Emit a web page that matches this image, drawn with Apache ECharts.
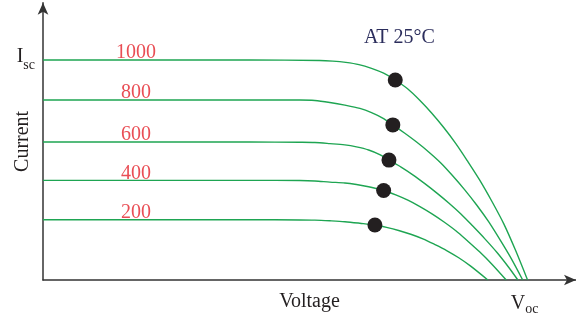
<!DOCTYPE html>
<html><head><meta charset="utf-8">
<script src="https://cdn.jsdelivr.net/npm/echarts@6/dist/echarts.min.js"></script>
<style>html,body{margin:0;padding:0;background:#fff}#c{width:576px;height:324px}</style>
</head><body><div id="c"></div>
<script>
// Irradiance levels (W/m²)
const irradiance = ['1000', '800', '600', '400', '200'];
// I–V curves [voltage, current] in arbitrary units
const curve1000 = [[0,100],[42.7,100],[57.1,99.8],[59.8,99.5],[62.5,98.9],[65.2,97.9],[67.8,96.2],[70.3,94.0],[72.7,90.9],[75.3,86.8],[77.7,81.8],[80.2,75.9],[82.7,69.3],[85.2,62.0],[87.6,54.1],[90.1,45.5],[92.6,35.9],[95.1,25.5],[97.5,13.6],[100,0]];
const curve800  = [[0,81.8],[42.7,81.8],[53,81.8],[56.1,81.6],[59.2,80.7],[62.3,79.5],[65.4,78.0],[67.8,76.1],[70.1,73.6],[72.2,70.5],[74.6,66.8],[77.1,62.7],[79.6,58.2],[82.1,53.2],[84.5,47.5],[87,41.1],[89.5,34.1],[92,26.4],[94.4,18.0],[96.7,9.5],[99,0]];
const curve600  = [[0,62.7],[42.7,62.7],[53,62.6],[56.1,62.5],[59.2,62.0],[62.3,61.4],[64.7,60.5],[67.2,59.1],[69.5,57.0],[71.4,54.5],[73.9,51.3],[76.4,47.7],[78.8,43.8],[81.3,39.5],[83.8,34.9],[86.3,29.9],[88.7,24.5],[91.2,18.7],[93.7,12.5],[96.1,5.8],[98,0]];
const curve400  = [[0,45.3],[42.7,45.3],[53,45.2],[56.1,45.0],[59.2,44.5],[62.3,44.1],[64.7,43.4],[67.2,42.4],[70.3,40.7],[72.8,38.7],[75.3,36.3],[77.7,33.5],[80.2,30.2],[82.7,26.5],[85.2,22.4],[87.6,17.8],[90.1,12.8],[92.6,7.3],[95.6,0]];
const curve200  = [[0,27.4],[42.7,27.4],[53,27.3],[56.1,27.2],[59.2,26.9],[62.3,26.5],[65.4,25.8],[68.5,25],[70.9,23.9],[73.4,22.5],[75.9,20.8],[78.4,18.7],[80.8,16.2],[83.3,13.4],[85.8,10.1],[88.2,6.4],[91.8,0]];
// Maximum power points
const mpp = [[72.7,90.9],[72.2,70.5],[71.4,54.5],[70.3,40.7],[68.5,25]];
// Label anchor positions for irradiance labels
const labelX = 19.2;
const levels = [100, 81.8, 62.7, 45.3, 27.4];
const iscValue = 100, vocValue = 100;

const serif = '"Liberation Serif", "DejaVu Serif", serif';
const green = '#1ea552';
const curves = [curve1000, curve800, curve600, curve400, curve200];

const series = curves.map((d, i) => ({
  type: 'line', name: irradiance[i], data: d, smooth: 0.3,
  showSymbol: false, lineStyle: { color: green, width: 1.4 }, silent: true, z: 2
}));
series.push({
  type: 'scatter', data: mpp, symbolSize: 15,
  itemStyle: { color: '#231f20', opacity: 1 }, z: 5, silent: true
});
series.push({
  type: 'scatter', symbolSize: 0, z: 4, silent: true,
  data: levels.map((v, i) => ({ value: [labelX, v], name: irradiance[i] })),
  label: { show: true, position: 'top', distance: -3, formatter: p => p.name,
    color: '#e4222b', fontFamily: serif, fontSize: 20 }
});

const chart = echarts.init(document.getElementById('c'));
chart.setOption({
  animation: false,
  grid: { left: 43, right: 0, top: 2.8, bottom: 44, containLabel: false, outerBoundsMode: 'none' },
  xAxis: {
    type: 'value', min: 0, max: 110,
    name: 'Voltage', nameLocation: 'middle', nameGap: 12, nameMoveOverlap: false,
    nameTextStyle: { fontFamily: serif, fontSize: 20, color: '#231f20', verticalAlign: 'top' },
    axisLine: { lineStyle: { color: '#333', width: 1.5 }, symbol: ['none', 'arrow'], symbolSize: [8, 12] },
    axisTick: { show: false }, splitLine: { show: false },
    axisLabel: { customValues: [vocValue], margin: 12,
      formatter: () => '{v|V}{s|oc}',
      rich: { v: { fontFamily: serif, fontSize: 20, color: '#231f20' },
              s: { fontFamily: serif, fontSize: 14, color: '#231f20', padding: [10, 6, 0, 0] } } }
  },
  yAxis: {
    type: 'value', min: 0, max: 126,
    name: 'Current', nameLocation: 'middle', nameGap: 10, nameRotate: 90, nameMoveOverlap: false,
    nameTextStyle: { fontFamily: serif, fontSize: 20, color: '#231f20', verticalAlign: 'bottom' },
    axisLine: { lineStyle: { color: '#333', width: 1.5 }, symbol: ['none', 'arrow'], symbolSize: [8, 12] },
    axisTick: { show: false }, splitLine: { show: false },
    axisLabel: { customValues: [iscValue], margin: 8,
      formatter: () => '{v|I}{s|sc}',
      rich: { v: { fontFamily: serif, fontSize: 20, color: '#231f20', padding: [0, 0, 6, 0] },
              s: { fontFamily: serif, fontSize: 14, color: '#231f20', padding: [10, 0, 0, 0] } } }
  },
  title: { text: 'AT 25°C', left: 359, top: 23,
    textStyle: { fontFamily: serif, fontSize: 20, fontWeight: 'normal', color: '#2b2d5c' } },
  series
});
</script></body></html>
